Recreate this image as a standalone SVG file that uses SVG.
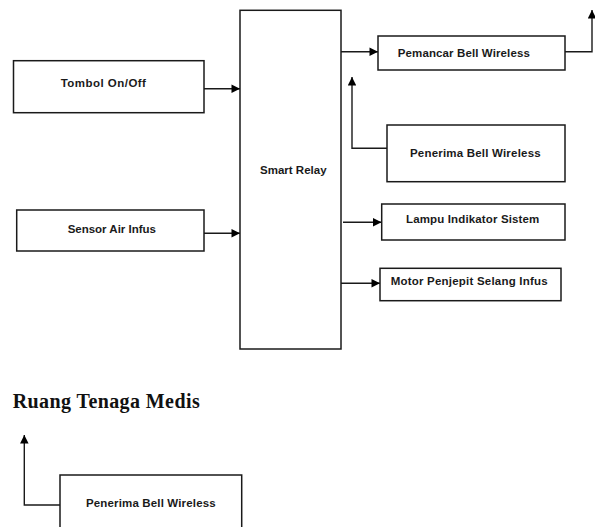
<svg xmlns="http://www.w3.org/2000/svg" width="595" height="527" viewBox="0 0 595 527">
<defs>
<marker id="ah" viewBox="0 0 10 10" refX="10" refY="5" markerWidth="9" markerHeight="8.5" markerUnits="userSpaceOnUse" orient="auto">
<path d="M0,0 L10,5 L0,10 Z" fill="#000"/>
</marker>
<style>
.box{fill:#fff;stroke:#1a1a1a;stroke-width:1.5}
.lbl{font-family:"Liberation Sans",Arial,sans-serif;font-weight:bold;font-size:11.5px;fill:#1a1a1a;text-anchor:middle}
.ttl{font-family:"Liberation Serif","Times New Roman",serif;font-weight:bold;font-size:20px;fill:#111}
.con{fill:none;stroke:#1a1a1a;stroke-width:1.4;marker-end:url(#ah)}
</style>
</defs>
<rect width="595" height="527" fill="#fff"/>
<g id="connectors">
<path class="con" d="M201,88.7 H240"/>
<path class="con" d="M204,233.3 H240"/>
<path class="con" d="M341,51.7 H378"/>
<path class="con" d="M565,51.7 H592 V10"/>
<path class="con" d="M387,148.3 H352 V77"/>
<path class="con" d="M343,222.3 H381.5"/>
<path class="con" d="M341,283.3 H380"/>
<path class="con" d="M60,505 H24.3 V435"/>
</g>
<g id="tombol">
<rect class="box" x="13.5" y="60.7" width="190.5" height="52"/>
<text class="lbl" x="103.3" y="87" textLength="85.3">Tombol On/Off</text>
</g>
<g id="sensor">
<rect class="box" x="16.7" y="210" width="187.3" height="41"/>
<text class="lbl" x="111.8" y="232.7" textLength="88.3">Sensor Air Infus</text>
</g>
<g id="smart-relay">
<rect class="box" x="240" y="10.3" width="101" height="338.7"/>
<text class="lbl" x="293.3" y="174.3" textLength="66.7">Smart Relay</text>
</g>
<g id="pemancar">
<rect class="box" x="378" y="36" width="187" height="34"/>
<text class="lbl" x="463.8" y="57" textLength="132">Pemancar Bell Wireless</text>
</g>
<g id="penerima-1">
<rect class="box" x="387" y="125" width="178" height="56.7"/>
<text class="lbl" x="475.3" y="157.3" textLength="130.7">Penerima Bell Wireless</text>
</g>
<g id="lampu">
<rect class="box" x="381.7" y="204" width="183.3" height="36"/>
<text class="lbl" x="472.7" y="223.3" textLength="133.3">Lampu Indikator Sistem</text>
</g>
<g id="motor">
<rect class="box" x="380" y="268.3" width="181" height="32.4"/>
<text class="lbl" x="469.2" y="285.3" textLength="157">Motor Penjepit Selang Infus</text>
</g>
<g id="title">
<text class="ttl" x="12.7" y="407.7" textLength="187">Ruang Tenaga Medis</text>
</g>
<g id="penerima-2">
<rect class="box" x="60" y="475" width="181.7" height="60"/>
<text class="lbl" x="150.8" y="506.7" textLength="129.7">Penerima Bell Wireless</text>
</g>
</svg>
